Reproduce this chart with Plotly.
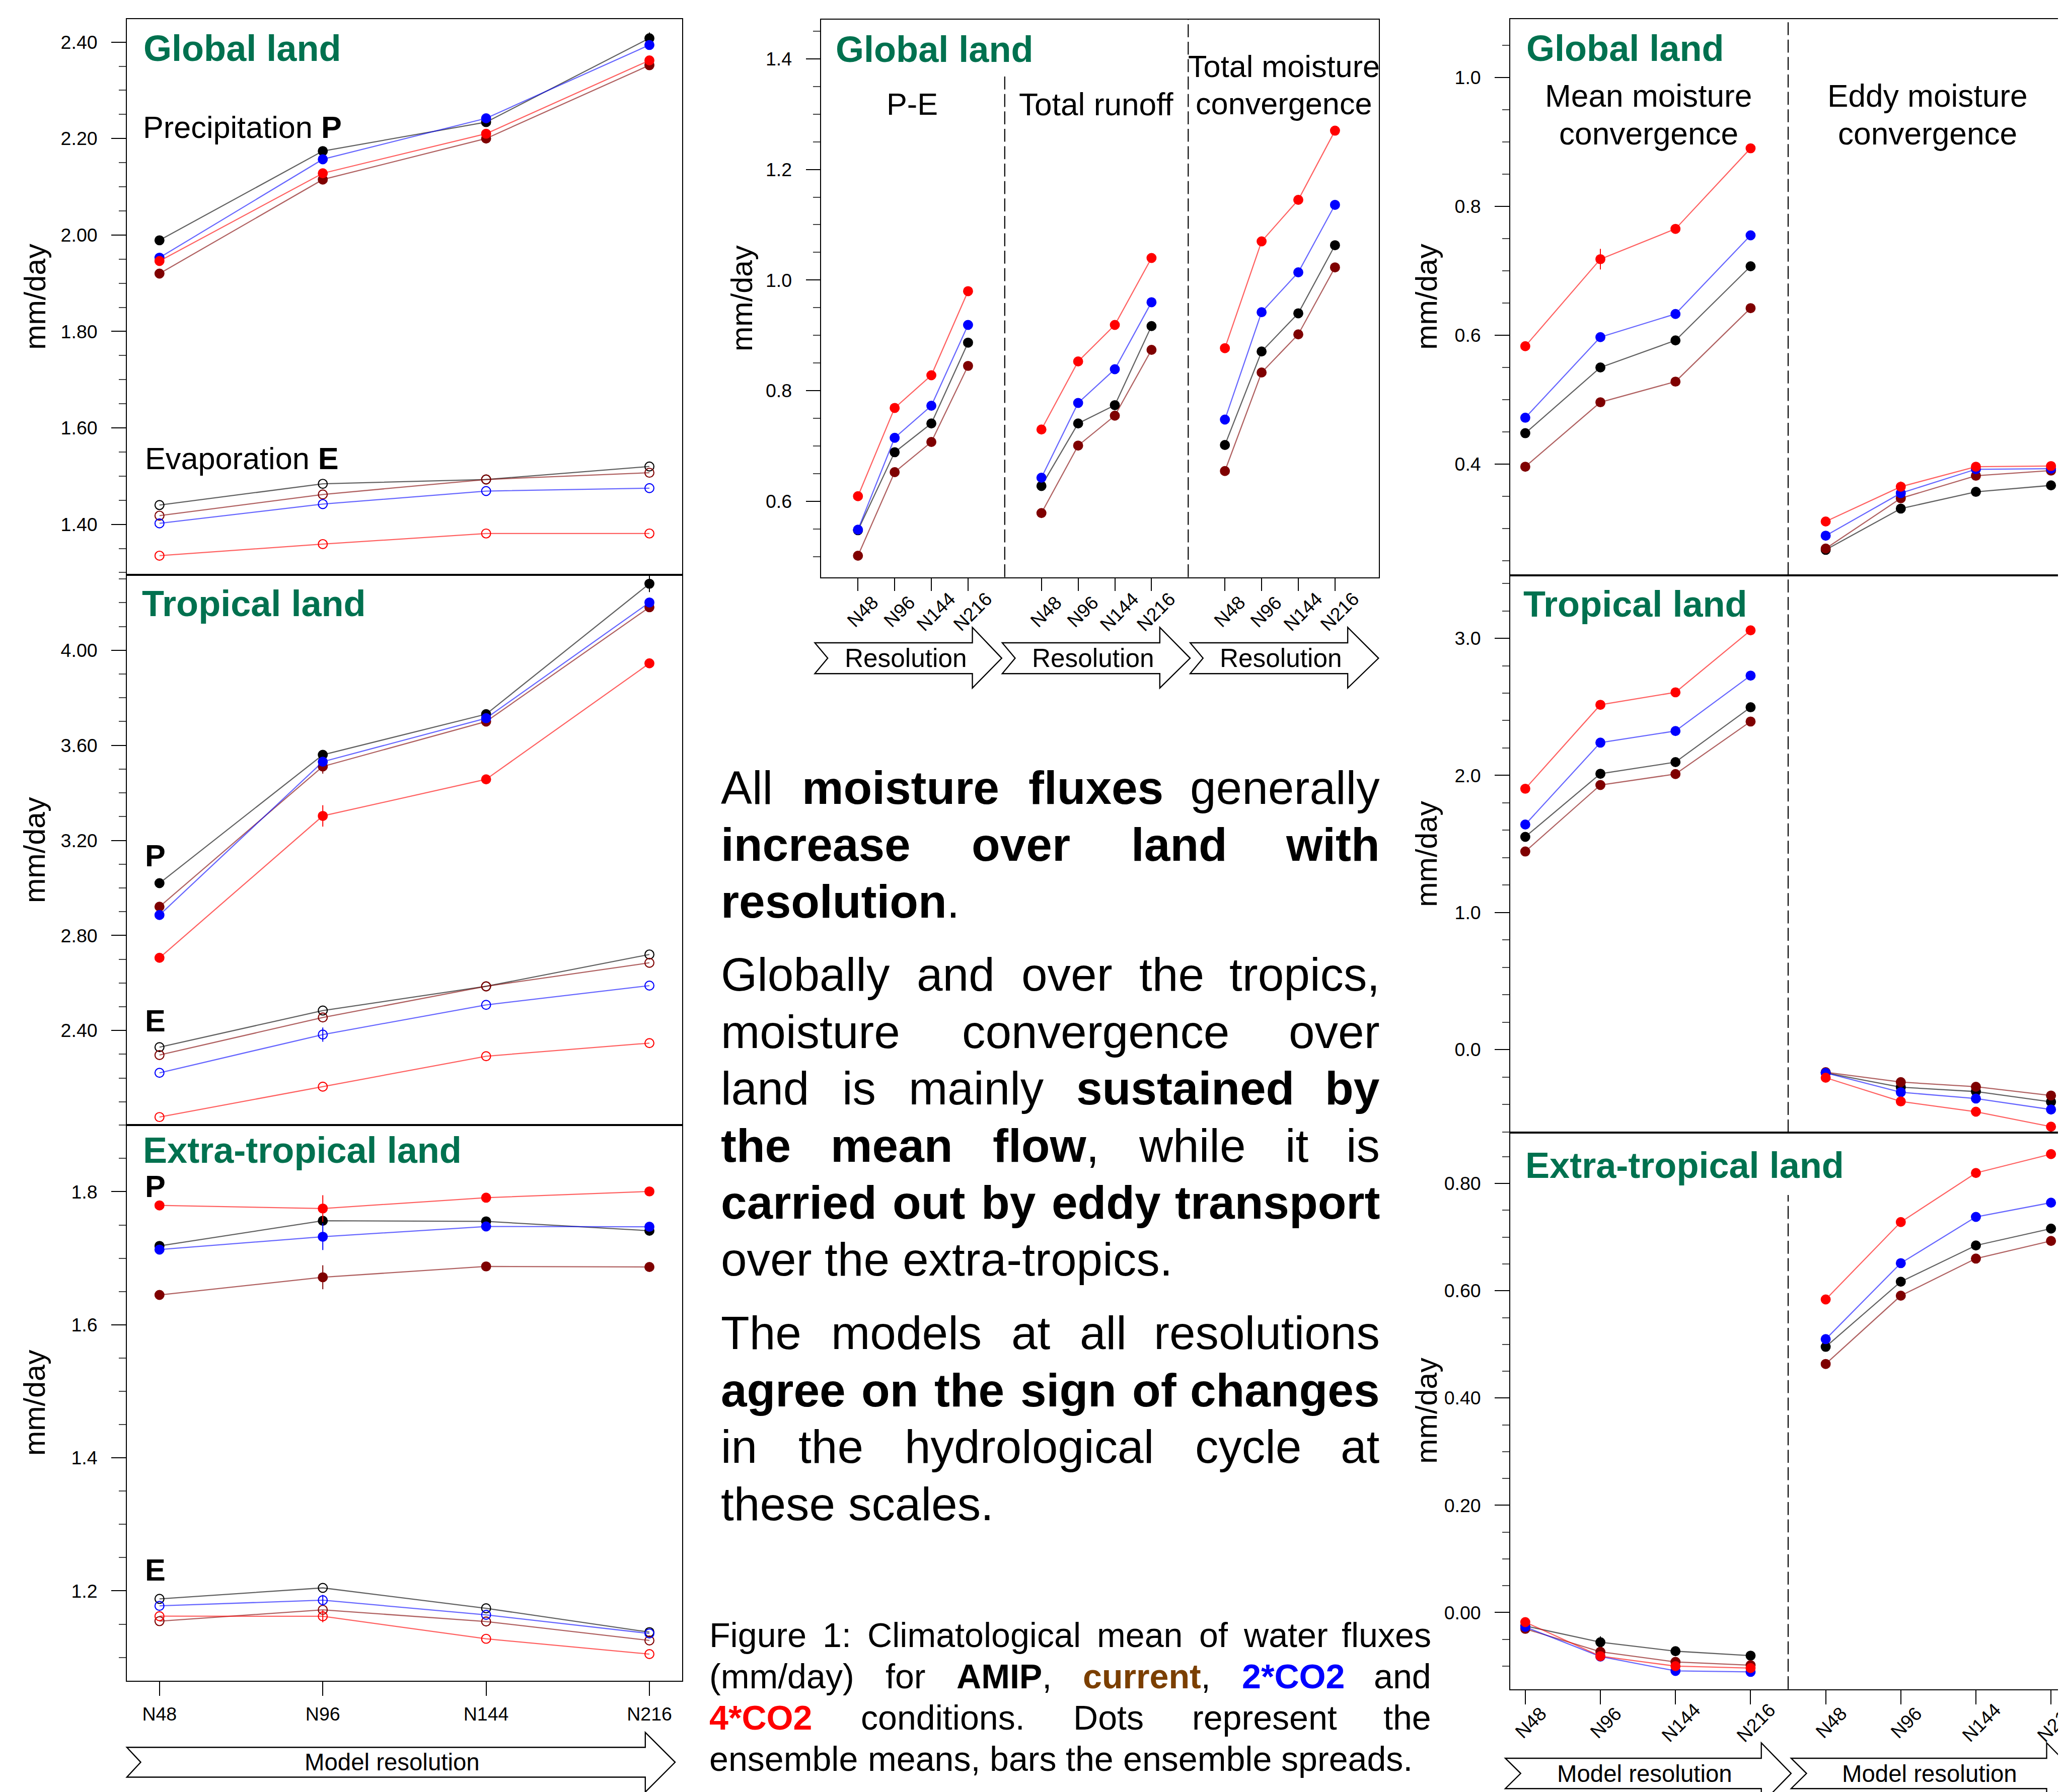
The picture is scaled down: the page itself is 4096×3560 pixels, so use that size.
import plotly.graph_objects as go

# ---------------- canvas helpers ----------------
W, H = 4096, 3560
FW, FH = 4148, 3605          # reference size
S = W / FW

def X(xf):
    return xf / FW

def Y(yf):
    return 1 - yf / FH

def sz(v):
    return v * S

FONT = "Liberation Sans, Arial, Helvetica, sans-serif"
GREEN = "#00714f"

# ---------------- data ----------------
resolutions = ["N48", "N96", "N144", "N216"]
scenarios = ["AMIP", "current", "2*CO2", "4*CO2"]

# order of inner lists: AMIP, current, 2*CO2, 4*CO2
glob_P = [[1.989, 2.174, 2.234, 2.408], [1.920, 2.115, 2.200, 2.352],
          [1.953, 2.157, 2.242, 2.394], [1.946, 2.128, 2.210, 2.362]]
glob_E = [[1.440, 1.484, 1.493, 1.520], [1.418, 1.462, 1.493, 1.507],
          [1.402, 1.442, 1.469, 1.475], [1.335, 1.359, 1.381, 1.381]]
trop_P = [[3.020, 3.560, 3.731, 4.280], [2.921, 3.511, 3.700, 4.181],
          [2.886, 3.531, 3.714, 4.201], [2.706, 3.303, 3.457, 3.945]]
trop_E = [[2.330, 2.484, 2.586, 2.720], [2.297, 2.455, 2.586, 2.685],
          [2.222, 2.383, 2.508, 2.589], [2.036, 2.164, 2.292, 2.347]]
extra_P = [[1.7185, 1.7563, 1.7554, 1.7413], [1.6448, 1.6714, 1.6877, 1.6868],
           [1.713, 1.7323, 1.7477, 1.7473], [1.7794, 1.7747, 1.791, 1.8004]]
extra_E = [[1.188, 1.2045, 1.1738, 1.138], [1.1545, 1.1715, 1.154, 1.1255],
           [1.1775, 1.186, 1.164, 1.136], [1.162, 1.1618, 1.128, 1.105]]

glob_PmE = [[0.548, 0.689, 0.741, 0.887], [0.502, 0.653, 0.7075, 0.845],
            [0.549, 0.715, 0.773, 0.919], [0.6095, 0.769, 0.828, 0.980]]
glob_runoff = [[0.628, 0.741, 0.774, 0.917], [0.579, 0.701, 0.755, 0.874],
               [0.643, 0.778, 0.839, 0.960], [0.730, 0.853, 0.919, 1.040]]
glob_totconv = [[0.702, 0.871, 0.940, 1.063], [0.655, 0.833, 0.902, 1.023],
                [0.748, 0.942, 1.014, 1.136], [0.877, 1.070, 1.145, 1.270]]

glob_mean = [[0.448, 0.550, 0.592, 0.707], [0.396, 0.496, 0.528, 0.642],
             [0.472, 0.597, 0.633, 0.755], [0.583, 0.718, 0.765, 0.890]]
glob_eddy = [[0.267, 0.331, 0.357, 0.367], [0.269, 0.347, 0.382, 0.390],
             [0.289, 0.355, 0.392, 0.393], [0.311, 0.365, 0.396, 0.397]]
trop_mean = [[1.552, 2.012, 2.097, 2.497], [1.445, 1.930, 2.010, 2.393],
             [1.642, 2.239, 2.324, 2.728], [1.903, 2.515, 2.606, 3.058]]
trop_eddy = [[-0.170, -0.274, -0.306, -0.381], [-0.165, -0.237, -0.271, -0.335],
             [-0.170, -0.311, -0.357, -0.437], [-0.205, -0.378, -0.453, -0.562]]
extra_mean = [[-0.025, -0.0554, -0.0721, -0.0804], [-0.0304, -0.0732, -0.0921, -0.0982],
              [-0.0268, -0.0821, -0.1089, -0.1107], [-0.0179, -0.0814, -0.100, -0.1036]]
extra_eddy = [[0.4955, 0.6169, 0.6845, 0.7159], [0.4635, 0.5908, 0.660, 0.693],
              [0.5098, 0.6515, 0.7377, 0.7643], [0.5838, 0.7281, 0.8197, 0.8548]]

# ensemble spreads (half-range), read where visible
glob_P_err = [[0, 0, 0, 0.012], [0, 0, 0, 0], [0, 0, 0, 0], [0, 0, 0, 0]]
trop_P_err = [[0, 0, 0, 0.035], [0, 0.03, 0, 0], [0, 0, 0, 0], [0, 0.045, 0, 0]]
trop_E_err = [[0, 0, 0, 0], [0, 0, 0, 0], [0, 0.03, 0, 0], [0, 0, 0, 0]]
extra_P_err = [[0, 0, 0, 0], [0, 0.018, 0, 0], [0, 0.02, 0, 0], [0, 0.02, 0, 0.005]]
extra_E_err = [[0, 0, 0, 0], [0, 0, 0, 0], [0, 0.008, 0, 0], [0, 0.009, 0, 0]]
glob_mean_err = [[0, 0, 0, 0], [0, 0, 0, 0], [0, 0, 0, 0], [0, 0.016, 0, 0]]
glob_eddy_err = [[0, 0, 0, 0], [0, 0, 0, 0], [0, 0, 0, 0], [0, 0.008, 0, 0]]
extra_mean_err = [[0, 0.011, 0, 0], [0, 0, 0, 0], [0, 0, 0, 0], [0, 0, 0, 0]]
extra_eddy_err = [[0, 0, 0, 0], [0, 0, 0, 0], [0, 0.005, 0, 0], [0, 0.007, 0, 0]]

# ---------------- styles ----------------
marker_colors = ["#000000", "#7f0000", "#0000ff", "#ff0000"]
line_colors = ["rgba(0,0,0,0.62)", "rgba(127,0,0,0.62)", "rgba(0,0,255,0.6)", "rgba(255,0,0,0.62)"]

fig = go.Figure()

pos4 = [1, 2, 3, 4]


def add_group(xa, ya, xs, groups, errs=None, openm=False):
    for k in range(4):
        e = errs[k] if errs else None
        fig.add_trace(go.Scatter(
            x=xs, y=groups[k], xaxis=xa, yaxis=ya, mode="lines+markers",
            line=dict(color=line_colors[k], width=sz(2.3)),
            marker=dict(symbol="circle-open" if openm else "circle", size=sz(18),
                        color=marker_colors[k],
                        line=dict(width=sz(2.2), color=marker_colors[k])),
            error_y=(dict(type="data", array=e, symmetric=True, color=marker_colors[k],
                          thickness=sz(2), width=0) if e else None),
            showlegend=False, hoverinfo="skip", name=scenarios[k]))


# left column
add_group("x", "y", pos4, glob_P, glob_P_err)
add_group("x", "y", pos4, glob_E, None, True)
add_group("x2", "y2", pos4, trop_P, trop_P_err)
add_group("x2", "y2", pos4, trop_E, trop_E_err, True)
add_group("x3", "y3", pos4, extra_P, extra_P_err)
add_group("x3", "y3", pos4, extra_E, extra_E_err, True)
# middle panel
mid_pos = [[1, 2, 3, 4], [6, 7, 8, 9], [11, 12, 13, 14]]
add_group("x4", "y4", mid_pos[0], glob_PmE)
add_group("x4", "y4", mid_pos[1], glob_runoff)
add_group("x4", "y4", mid_pos[2], glob_totconv)
# right column
r_pos = [[1, 2, 3, 4], [5, 6, 7, 8]]
add_group("x5", "y5", r_pos[0], glob_mean, glob_mean_err)
add_group("x5", "y5", r_pos[1], glob_eddy, glob_eddy_err)
add_group("x6", "y6", r_pos[0], trop_mean)
add_group("x6", "y6", r_pos[1], trop_eddy)
add_group("x7", "y7", r_pos[0], extra_mean, extra_mean_err)
add_group("x7", "y7", r_pos[1], extra_eddy, extra_eddy_err)

# ---------------- axes ----------------
LW = sz(2.3)
TICKFONT = dict(family=FONT, size=sz(38), color="black")


def yax(dom, rng, dtick, minor, fmt, anchor, mirror=True):
    return dict(domain=dom, range=rng, dtick=dtick, tick0=0, tickformat=fmt,
                ticks="outside", ticklen=sz(29), tickwidth=sz(2.2), tickcolor="black",
                showline=True, linewidth=LW, linecolor="black", mirror=mirror,
                showgrid=False, zeroline=False, tickfont=TICKFONT,
                ticklabelstandoff=20, anchor=anchor, fixedrange=True,
                minor=dict(dtick=minor, tick0=0, ticks="outside", ticklen=sz(14),
                           tickwidth=sz(2), tickcolor="#444444", showgrid=False))


def xax(dom, rng, anchor, tickvals=None, ticklen=0, labels=None):
    d = dict(domain=dom, range=rng, anchor=anchor, showline=True, linewidth=LW,
             linecolor="black", mirror=True, showgrid=False, zeroline=False,
             fixedrange=True, showticklabels=False, ticks="")
    if tickvals is not None:
        d.update(tickmode="array", tickvals=tickvals, ticks="outside", ticklen=sz(ticklen),
                 tickwidth=sz(2.2), tickcolor="black")
    if labels is not None:
        d.update(ticktext=labels, showticklabels=True, tickfont=TICKFONT,
                 ticklabelstandoff=4)
    return d


LX = [X(247), X(1364)]
MX = [X(1644), X(2766)]
RX = [X(3030), 1.0]

layout = dict(
    width=W, height=H, margin=dict(l=0, r=0, t=0, b=0),
    paper_bgcolor="white", plot_bgcolor="white", showlegend=False,
    font=dict(family=FONT, color="black"),
    xaxis=xax(LX, [0.8, 4.2], "y"),
    yaxis=yax([Y(1148), Y(30)], [1.2956, 2.448], 0.2, 0.05, ".2f", "x"),
    xaxis2=xax(LX, [0.8, 4.2], "y2"),
    yaxis2=yax([Y(2255), Y(1148)], [2.0027, 4.318], 0.4, 0.1, ".2f", "x2"),
    xaxis3=xax(LX, [0.8, 4.2], "y3", pos4, 28, resolutions),
    yaxis3=yax([Y(3373), Y(2255)], [1.065, 1.9003], 0.2, 0.05, ".1f", "x3"),
    xaxis4=xax(MX, [0, 15.2], "y4", mid_pos[0] + mid_pos[1] + mid_pos[2], 26),
    yaxis4=yax([Y(1153), Y(31)], [0.4632, 1.471], 0.2, 0.05, ".1f", "x4"),
    xaxis5=xax(RX, [0.8, 8.2], "y5"),
    yaxis5=yax([Y(1149), Y(30)], [0.2277, 1.0907], 0.2, 0.05, ".1f", "x5", False),
    xaxis6=xax(RX, [0.8, 8.2], "y6"),
    yaxis6=yax([Y(2270), Y(1149)], [-0.604, 3.4605], 1.0, 0.2, ".1f", "x6", False),
    xaxis7=xax(RX, [0.8, 8.2], "y7", r_pos[0] + r_pos[1], 29),
    yaxis7=yax([Y(3390), Y(2270)], [-0.1429, 0.8953], 0.2, 0.05, ".2f", "x7", False),
)
fig.update_layout(**layout)

# ---------------- shapes ----------------
shapes = []
DASH = f"{sz(26):.1f}px,{sz(9):.1f}px"


def vdash(xref, xv, yf0, yf1):
    shapes.append(dict(type="line", xref=xref, yref="paper", x0=xv, x1=xv,
                       y0=Y(yf0), y1=Y(yf1), line=dict(color="black", width=sz(2.2), dash=DASH)))


vdash("x4", 5, 1153, 145)
vdash("x4", 10, 1153, 31)
vdash("x5", 4.5, 2270, 30)
vdash("x7", 4.5, 3390, 2396)


def arrow_path(x0, xn, xh, xt, yt, yb, yht, yhb):
    yc = (yt + yb) / 2
    pts = [(x0, yt), (xh, yt), (xh, yht), (xt, yc), (xh, yhb), (xh, yb), (x0, yb), (xn, yc)]
    return "M " + " L ".join(f"{X(a):.5f},{Y(b):.5f}" for a, b in pts) + " Z"


arrows = [
    ((247, 275, 1290, 1350, 3507, 3567, 3477, 3597), "Model resolution", 781, 48),
    ((1631, 1657, 1948, 2007, 1285, 1347, 1254, 1376), "Resolution", 1814, 52),
    ((2008, 2034, 2325, 2386, 1285, 1347, 1254, 1376), "Resolution", 2191, 52),
    ((2386, 2412, 2703, 2765, 1285, 1347, 1254, 1376), "Resolution", 2569, 52),
    ((3020, 3051, 3535, 3595, 3529, 3590, 3498, 3621), "Model resolution", 3300, 48),
    ((3595, 3626, 4109, 4169, 3529, 3590, 3498, 3621), "Model resolution", 3874, 48),
]
annotations = []
for geom, label, tx, fs in arrows:
    shapes.append(dict(type="path", xref="paper", yref="paper", path=arrow_path(*geom),
                       fillcolor="white", line=dict(color="black", width=sz(2.4)), layer="above"))
    yc = (geom[4] + geom[5]) / 2
    annotations.append(dict(x=X(tx), y=Y(yc), xref="paper", yref="paper", text=label,
                            showarrow=False, xanchor="center", yanchor="middle",
                            font=dict(family=FONT, size=sz(fs), color="black")))

fig.update_layout(shapes=shapes)


# ---------------- annotations ----------------
def ann(text, xf, yf, size, xanchor="left", color="black", angle=0, xref="paper", xv=None, xshift=0):
    annotations.append(dict(
        x=(X(xf) if xv is None else xv), y=Y(yf), xref=xref, yref="paper", text=text,
        showarrow=False, xanchor=xanchor, yanchor="middle", textangle=angle, xshift=xshift,
        font=dict(family=FONT, size=sz(size), color=color)))


# panel titles (cap-centre y)
ann("<b>Global land</b>", 278, 89, 73, color=GREEN)
ann("<b>Global land</b>", 1671, 91, 73, color=GREEN)
ann("<b>Global land</b>", 3060, 89, 73, color=GREEN)
ann("<b>Tropical land</b>", 275, 1206, 73, color=GREEN)
ann("<b>Tropical land</b>", 3054, 1207, 73, color=GREEN)
ann("<b>Extra-tropical land</b>", 277, 2306, 73, color=GREEN)
ann("<b>Extra-tropical land</b>", 3058, 2336, 73, color=GREEN)

# variable labels
ann("Precipitation <b>P</b>", 277, 248, 62)
ann("Evaporation <b>E</b>", 282, 914, 62)
ann("<b>P</b>", 282, 1713, 62)
ann("<b>E</b>", 282, 2046, 62)
ann("<b>P</b>", 282, 2379, 62)
ann("<b>E</b>", 282, 3150, 62)

ann("P-E", 1827, 202, 62, xanchor="center")
ann("Total runoff", 2197, 202, 63, xanchor="center")
ann("Total moisture", 2575, 126, 62, xanchor="center")
ann("convergence", 2575, 200, 62, xanchor="center")
ann("Mean moisture", 3308, 185, 63, xanchor="center")
ann("convergence", 3308, 261, 63, xanchor="center")
ann("Eddy moisture", 3870, 185, 63, xanchor="center")
ann("convergence", 3870, 261, 63, xanchor="center")

# y-axis titles
for xf, yf in [(62, 589), (62, 1702), (62, 2814), (1484, 592), (2862, 589), (2862, 1710), (2862, 2830)]:
    ann("mm/day", xf, yf, 60, xanchor="center", angle=-90)

# rotated tick labels (centred on ticks)
for grp in mid_pos:
    for p, lab in zip(grp, resolutions):
        ann(lab, 0, 1222, 38, xanchor="center", angle=-45, xref="x4", xv=p, xshift=sz(9))
for grp in r_pos:
    for p, lab in zip(grp, resolutions):
        ann(lab, 0, 3457, 38, xanchor="center", angle=-45, xref="x7", xv=p, xshift=sz(11))

# ---------------- justified text blocks ----------------
REG_W = {' ': 278, '(': 333, ')': 333, '*': 389, ',': 278, '-': 333, '.': 278, '/': 278, ':': 278,
         'A': 667, 'B': 667, 'C': 722, 'D': 722, 'E': 667, 'F': 611, 'G': 778, 'H': 722, 'I': 278,
         'J': 500, 'K': 667, 'L': 556, 'M': 833, 'N': 722, 'O': 778, 'P': 667, 'Q': 778, 'R': 722,
         'S': 667, 'T': 611, 'U': 722, 'V': 667, 'W': 944, 'X': 667, 'Y': 667, 'Z': 611,
         'a': 556, 'b': 556, 'c': 500, 'd': 556, 'e': 556, 'f': 278, 'g': 556, 'h': 556, 'i': 222,
         'j': 222, 'k': 500, 'l': 222, 'm': 833, 'n': 556, 'o': 556, 'p': 556, 'q': 556, 'r': 333,
         's': 500, 't': 278, 'u': 556, 'v': 500, 'w': 722, 'x': 500, 'y': 500, 'z': 500}
BOLD_W = {' ': 278, '(': 333, ')': 333, '*': 389, ',': 278, '-': 333, '.': 278, '/': 278, ':': 333,
          'A': 722, 'B': 722, 'C': 722, 'D': 722, 'E': 667, 'F': 611, 'G': 778, 'H': 722, 'I': 278,
          'J': 556, 'K': 722, 'L': 611, 'M': 833, 'N': 722, 'O': 778, 'P': 667, 'Q': 778, 'R': 722,
          'S': 667, 'T': 611, 'U': 722, 'V': 667, 'W': 944, 'X': 667, 'Y': 667, 'Z': 611,
          'a': 556, 'b': 611, 'c': 556, 'd': 611, 'e': 556, 'f': 333, 'g': 611, 'h': 611, 'i': 278,
          'j': 278, 'k': 556, 'l': 278, 'm': 889, 'n': 611, 'o': 611, 'p': 611, 'q': 611, 'r': 389,
          's': 556, 't': 333, 'u': 611, 'v': 556, 'w': 778, 'x': 556, 'y': 556, 'z': 500}
for d in '0123456789':
    REG_W[d] = 556
    BOLD_W[d] = 556

STYLE_COLOR = {"n": None, "b": None, "brown": "#7b3f00", "blue": "#0000ff", "red": "#ff0000"}


def tokens_of(segments):
    words, cur = [], []
    for text, st in segments:
        for ch in text:
            if ch == ' ':
                if cur:
                    words.append(cur)
                cur = []
            else:
                cur.append((ch, st))
    if cur:
        words.append(cur)
    return words


def word_width(word, size):
    return sum((REG_W if st == "n" else BOLD_W).get(ch, 556) for ch, st in word) * size / 1000.0


def word_html(word):
    out, i = "", 0
    while i < len(word):
        st = word[i][1]
        j = i
        while j < len(word) and word[j][1] == st:
            j += 1
        t = "".join(c for c, _ in word[i:j])
        if st != "n":
            col = STYLE_COLOR[st]
            if col:
                t = f"<span style='color:{col}'>{t}</span>"
            t = f"<b>{t}</b>"
        out += t
        i = j
    return out


def place_block(lines, left, right, size):
    for segs, justify, base in lines:
        words = tokens_of(segs)
        widths = [word_width(w, size) for w in words]
        if justify and len(words) > 1:
            gap = (right - left - sum(widths)) / (len(words) - 1)
        else:
            gap = 278 * size / 1000.0
        yc = base - 0.3465 * size
        xcur = left
        for i, w in enumerate(words):
            if justify and i == len(words) - 1 and len(words) > 1:
                ann(word_html(w), right, yc, size, xanchor="right")
            else:
                ann(word_html(w), xcur, yc, size, xanchor="left")
            xcur += widths[i] + gap


body_lines = [
    ([("All ", "n"), ("moisture fluxes", "b"), (" generally", "n")], True, 1609),
    ([("increase over land with", "b")], True, 1724),
    ([("resolution", "b"), (".", "n")], False, 1838),
    ([("Globally and over the tropics,", "n")], True, 1985),
    ([("moisture convergence over", "n")], True, 2100),
    ([("land is mainly ", "n"), ("sustained by", "b")], True, 2214),
    ([("the mean flow", "b"), (", while it is", "n")], True, 2329),
    ([("carried out by eddy transport", "b")], True, 2444),
    ([("over the extra-tropics.", "n")], False, 2558),
    ([("The models at all resolutions", "n")], True, 2706),
    ([("agree on the sign of changes", "b")], True, 2821),
    ([("in the hydrological cycle at", "n")], True, 2935),
    ([("these scales.", "n")], False, 3050),
]
caption_lines = [
    ([("Figure 1: Climatological mean of water fluxes", "n")], True, 3305),
    ([("(mm/day) for ", "n"), ("AMIP", "b"), (", ", "n"), ("current", "brown"), (", ", "n"),
      ("2*CO2", "blue"), (" and", "n")], True, 3388),
    ([("4*CO2", "red"), (" conditions. Dots represent the", "n")], True, 3471),
    ([("ensemble means, bars the ensemble spreads.", "n")], False, 3554),
]
place_block(body_lines, 1440, 2770, 94)
place_block(caption_lines, 1417, 2873, 69)

fig.update_layout(annotations=annotations)
fig.write_html("out.html")
